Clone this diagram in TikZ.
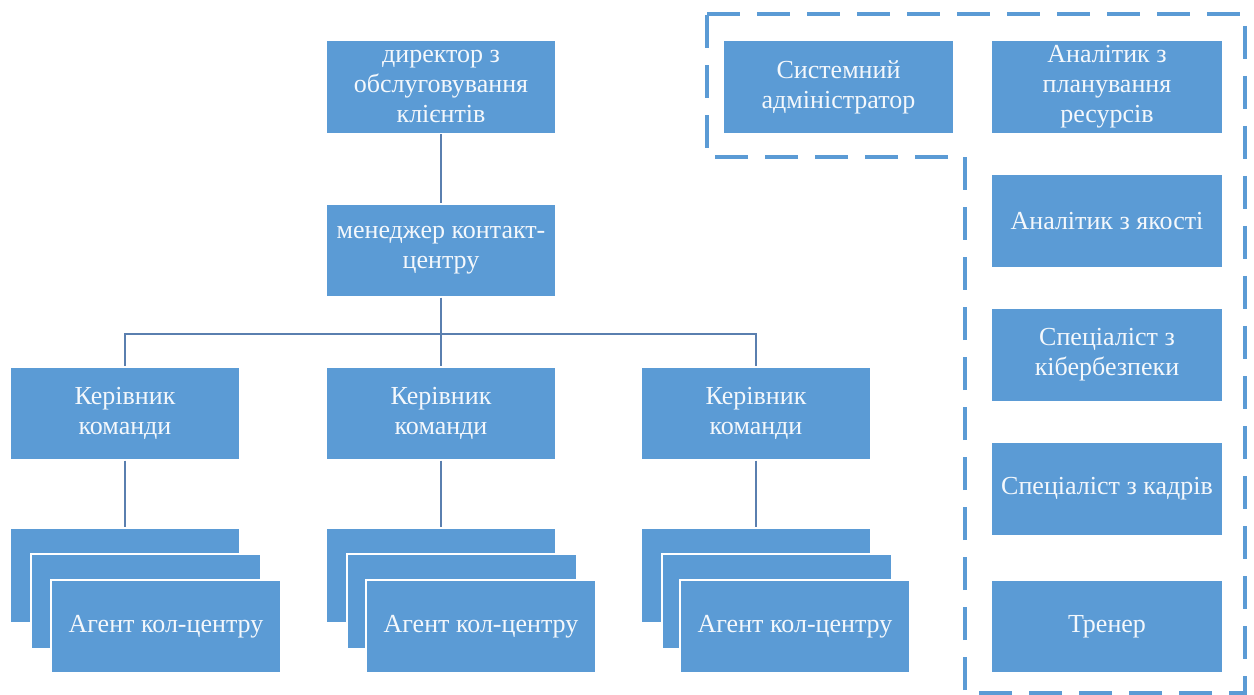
\documentclass[tikz,border=0pt]{standalone}
\usepackage{fontspec}
\setmainfont{Liberation Serif}
\definecolor{boxblue}{HTML}{5B9BD5}
\definecolor{linecol}{HTML}{5A7FAF}
\definecolor{dashcol}{HTML}{5B9BD5}
\definecolor{txtcol}{HTML}{F4F8FC}
\begin{document}
\begin{tikzpicture}[x=1pt,y=-1pt,
  orgbox/.style={fill=boxblue, draw=white, line width=1.2pt, minimum width=230pt, minimum height=93pt,
    inner sep=0pt, align=center, text=txtcol, font=\fontsize{26}{30}\selectfont},
  conn/.style={draw=linecol, line width=1.4pt},
  grpline/.style={draw=dashcol, line width=4pt, dash pattern=on 33pt off 17pt}]
\useasboundingbox (0,0) rectangle (1254,695);
% main hierarchy
\node[orgbox] (dir) at (441,87) {директор з\\обслуговування\\клієнтів};
\node[orgbox] (man) at (441,250.5) {менеджер контакт-\\центру};
\node[orgbox] (tl1) at (125,413.5) {Керівник\\команди};
\node[orgbox] (tl2) at (441,413.5) {Керівник\\команди};
\node[orgbox] (tl3) at (756,413.5) {Керівник\\команди};
% agent stacks
\node[orgbox, minimum height=95pt] (a1b) at (125,575.5) {};
\node[orgbox, minimum height=95pt] (a1m) at (146,601.5) {};
\node[orgbox] (a1f) at (166,626.5) {Агент кол-центру};
\node[orgbox, minimum height=95pt] (a2b) at (441,575.5) {};
\node[orgbox, minimum height=95pt] (a2m) at (462,601.5) {};
\node[orgbox] (a2f) at (481,626.5) {Агент кол-центру};
\node[orgbox, minimum height=95pt] (a3b) at (756,575.5) {};
\node[orgbox, minimum height=95pt] (a3m) at (777,601.5) {};
\node[orgbox] (a3f) at (795,626.5) {Агент кол-центру};
% right-hand group
\node[orgbox, minimum width=231pt] (sys) at (838.5,87) {Системний\\адміністратор};
\node[orgbox, minimum width=232pt] (plan) at (1107,87) {Аналітик з\\планування\\ресурсів};
\node[orgbox, minimum width=232pt] (qual) at (1107,221) {Аналітик з якості};
\node[orgbox, minimum width=232pt] (cyber) at (1107,355) {Спеціаліст з\\кібербезпеки};
\node[orgbox, minimum width=232pt] (hr) at (1107,489) {Спеціаліст з кадрів};
\node[orgbox, minimum width=232pt] (trn) at (1107,626.5) {Тренер};
% connectors
\coordinate (hub) at (441,334);
\draw[conn] (dir.south) -- (man.north);
\draw[conn] (man.south) -- (hub);
\draw[conn] (hub) -| (tl1.north);
\draw[conn] (hub) -| (tl3.north);
\draw[conn] (hub) -- (tl2.north);
\draw[conn] (tl1.south) -- (a1b.north);
\draw[conn] (tl2.south) -- (a2b.north);
\draw[conn] (tl3.south) -- (a3b.north);
% dashed group outline
\draw[grpline] (707,14) -- (1245,14) -- (1245,693) -- (965,693) -- (965,157) -- (707,157) -- cycle;
\end{tikzpicture}
\end{document}
